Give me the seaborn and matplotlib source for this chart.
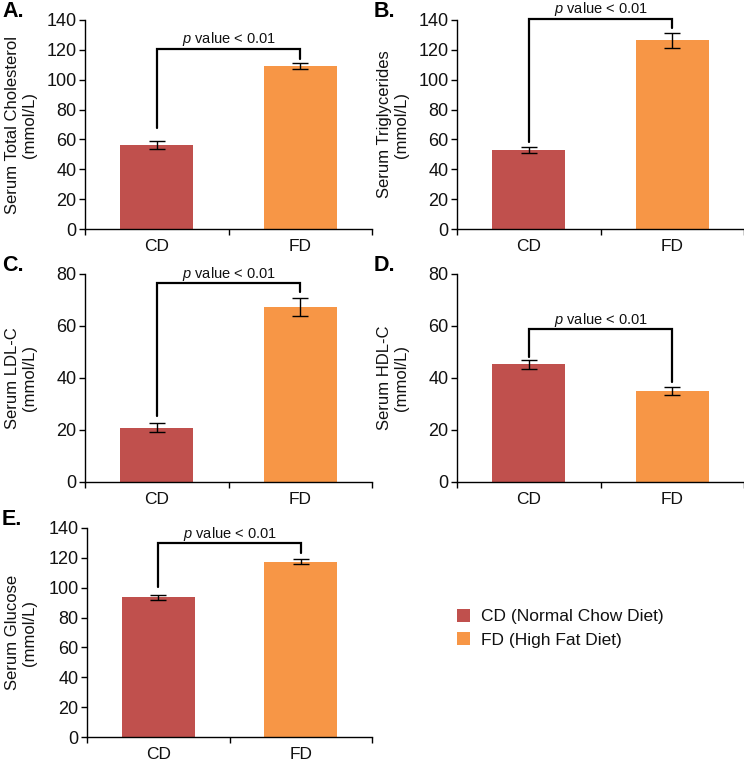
import matplotlib
matplotlib.use("Agg")
import matplotlib.pyplot as plt
import seaborn as sns
import pandas as pd
from matplotlib.patches import Patch

sns.set_theme(style="white")
plt.rcParams['font.family'] = ['Liberation Sans', 'DejaVu Sans']
plt.rcParams['mathtext.fontset'] = 'custom'
plt.rcParams['mathtext.rm'] = 'Liberation Sans'
plt.rcParams['mathtext.it'] = 'Liberation Sans:italic'
plt.rcParams['text.color'] = '#111111'
plt.rcParams['axes.labelcolor'] = '#111111'
plt.rcParams['xtick.color'] = '#111111'
plt.rcParams['ytick.color'] = '#111111'

groups = ["CD", "FD"]
legend_labels = ["CD (Normal Chow Diet)", "FD (High Fat Diet)"]
colors = ["#C0504D", "#F79646"]

chol_mean = [56.2, 109.1]
chol_err = [2.8, 2.1]
trig_mean = [52.9, 126.4]
trig_err = [2.0, 4.9]
ldl_mean = [20.9, 67.3]
ldl_err = [1.8, 3.3]
hdl_mean = [45.2, 35.1]
hdl_err = [1.6, 1.5]
glu_mean = [93.5, 117.5]
glu_err = [1.6, 1.8]

panels = [
    # letter, ylabel, means, errs, ymax, ystep, bracket y, leg bottoms, text baseline
    ("A.", "Serum Total Cholesterol\n(mmol/L)", chol_mean, chol_err, 140, 20, 120.6, (67.5, 114), 124.4),
    ("B.", "Serum Triglycerides\n(mmol/L)", trig_mean, trig_err, 140, 20, 140.7, (58.5, 134.4), 144.5),
    ("C.", "Serum LDL-C\n(mmol/L)", ldl_mean, ldl_err, 80, 20, 76.4, (25.2, 73.2), 78.4),
    ("D.", "Serum HDL-C\n(mmol/L)", hdl_mean, hdl_err, 80, 20, 58.8, (48, 38.4), 60.8),
    ("E.", "Serum Glucose\n(mmol/L)", glu_mean, glu_err, 140, 20, 129.7, (100.2, 123.3), 133.5),
]

W, H = 744, 762
positions = [
    (85, 20, 372, 229),
    (457, 20, 744, 229),
    (85, 274, 372, 482),
    (457, 274, 744, 482),
    (87, 528, 372, 737),
]

fig = plt.figure(figsize=(W / 100, H / 100), dpi=100)

for (letter, ylabel, means, errs, ymax, ystep, by, legs, ty), (x0, y0, x1, y1) in zip(panels, positions):
    aw = x1 - x0
    ah = y1 - y0
    col = 0 if x0 < 372 else 372
    ax = fig.add_axes([x0 / W, 1 - y1 / H, aw / W, ah / H])
    df = pd.DataFrame({"group": groups, "value": means})
    sns.barplot(data=df, x="group", y="value", hue="group", palette=colors,
                width=0.51, errorbar=None, legend=False, ax=ax, saturation=1,
                edgecolor="none", linewidth=0)
    ax.errorbar([0, 1], means, yerr=errs, fmt="none", ecolor="black",
                elinewidth=1.0, capsize=5.5, capthick=1.0)
    ax.set_ylim(0, ymax)
    ax.set_xlim(-0.5, 1.5)
    ax.set_yticks(range(0, ymax + 1, ystep))
    ax.set_xlabel("")
    ax.set_ylabel(ylabel, fontsize=12, linespacing=1.1)
    ax.yaxis.label.set_va("center")
    ax.yaxis.set_label_coords((col + 21 - x0) / aw, 0.5)
    for s in ["top", "right"]:
        ax.spines[s].set_visible(False)
    for s in ["left", "bottom"]:
        ax.spines[s].set_color("black")
        ax.spines[s].set_linewidth(1.0)
    ax.tick_params(axis="y", which="major", direction="out", length=4, width=1,
                   color="black", labelsize=13, pad=2, left=True)
    ax.tick_params(axis="x", which="major", length=0, labelsize=12.5, pad=7)
    ax.set_xticks([-0.5, 0.5, 1.5], minor=True)
    ax.tick_params(axis="x", which="minor", direction="out", length=4, width=1,
                   color="black", bottom=True)
    # significance bracket
    ax.plot([0, 0, 1, 1], [legs[0], by, by, legs[1]], color="black", lw=1.6,
            clip_on=False, solid_joinstyle="miter")
    ax.text(0.5, ty, r"$\it{p}$ value < 0.01", ha="center", va="baseline",
            fontsize=10.5, clip_on=False)
    ax.text((col + 2 - x0) / aw, 1.04, letter, transform=ax.transAxes, fontsize=15.5,
            fontweight="bold", ha="left", va="center", color="black")

handles = [Patch(facecolor=c, edgecolor="none") for c in colors]
fig.legend(handles, legend_labels, loc="upper left",
           bbox_to_anchor=(457 / W, 1 - 609 / H), frameon=False, fontsize=12.5,
           handlelength=0.75, handleheight=0.75, handletextpad=0.65,
           labelspacing=0.45, borderaxespad=0, borderpad=0)

fig.savefig("out.png", dpi=100)
